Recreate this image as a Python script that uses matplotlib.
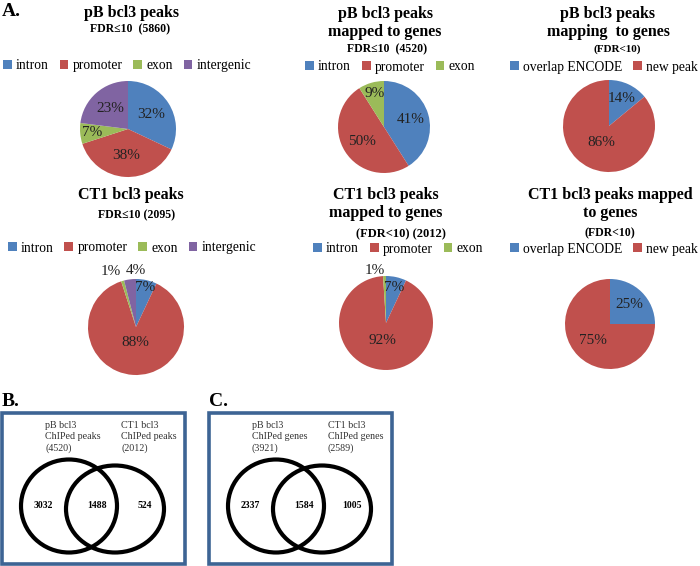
import numpy as np
import matplotlib
matplotlib.use("Agg")
import matplotlib.pyplot as plt
from matplotlib.patches import Ellipse, Rectangle

plt.rcParams['font.family'] = ['Liberation Serif', 'DejaVu Serif']

# ---- data ----
region_labels = ["intron", "promoter", "exon", "intergenic"]
gene_labels = ["intron", "promoter", "exon"]
encode_labels = ["overlap ENCODE", "new peak"]

pb_peaks = [32, 38, 7, 23]
pb_mapped = [41, 50, 9]
pb_encode = [14, 86]
ct1_peaks = [7, 88, 1, 4]
ct1_mapped = [7, 92, 1]
ct1_encode = [25, 75]

venn_b_counts = [3032, 1488, 524]
venn_b_sets = ["pB bcl3\nChIPed peaks\n(4520)", "CT1 bcl3\nChIPed peaks\n(2012)"]
venn_c_counts = [2337, 1584, 1005]
venn_c_sets = ["pB bcl3\nChIPed genes\n(3921)", "CT1 bcl3\nChIPed genes\n(2589)"]

colors = ["#4F81BD", "#C0504D", "#9BBB59", "#8064A2"]
W, H = 700, 566


def fy(y):
    return H - y


fig = plt.figure(figsize=(7.0, 5.66), dpi=100)
ax = fig.add_axes([0, 0, 1, 1])


def draw_pie(values, labels, cx, cy, r, lab_pos, title, sub, sub_size, leg_x, leg_y, title_y):
    # lab_pos: (radius fraction, angle shift in degrees) for each slice label
    wedges, _ = ax.pie(values, colors=colors[:len(values)], startangle=90, counterclock=False,
                       center=(cx, fy(cy)), radius=r, frame=True,
                       wedgeprops=dict(linewidth=0))
    for w, v, (f, sh) in zip(wedges, values, lab_pos):
        ang = np.deg2rad((w.theta1 + w.theta2) / 2 + sh)
        ax.text(cx + f * r * np.cos(ang), fy(cy) + f * r * np.sin(ang), "%d%%" % v,
                ha='center', va='center', fontsize=11, color='#222222')
    for i, line in enumerate(title):
        ax.text(line[1], fy(title_y + i * 18), line[0], ha='center', va='center',
                fontsize=11.5, fontweight='bold')
    ax.text(sub[1], fy(sub[2]), sub[0], ha='center', va='center', fontsize=sub_size,
            fontweight='bold')
    fig.legend(wedges, labels, loc='center', bbox_to_anchor=(leg_x / W, 1 - leg_y / H),
               ncol=len(labels), frameon=False, prop={'size': 9.8},
               handlelength=0.65, handleheight=0.65, handletextpad=0.3,
               columnspacing=0.8, borderpad=0)


draw_pie(pb_peaks, region_labels, 128, 129, 48, [(0.58, 0), (0.55, 0), (0.75, 0), (0.57, 0)],
         [("pB bcl3 peaks", 132)], ("FDR≤10  (5860)", 130, 29), 8.5, 127, 66, 13)
draw_pie(pb_mapped, gene_labels, 384, 127, 46, [(0.6, 0), (0.57, 0), (0.76, 0)],
         [("pB bcl3 peaks", 385), ("mapped to genes", 385)], ("FDR≤10  (4520)", 387, 49), 8.5,
         390, 67, 14)
draw_pie(pb_encode, encode_labels, 609, 126, 46, [(0.65, 0), (0.4, 0)],
         [("pB bcl3 peaks", 608), ("mapping  to genes", 608)], ("(FDR<10)", 617, 49), 8,
         604, 67, 14)
draw_pie(ct1_peaks, region_labels, 136, 327, 48, [(0.85, 0), (0.32, 0), (1.26, 8), (1.17, -7)],
         [("CT1 bcl3 peaks", 131)], ("FDR≤10 (2095)", 137, 215), 8.5, 132, 248, 195)
draw_pie(ct1_mapped, gene_labels, 386, 323, 47, [(0.78, 0), (0.38, 0), (1.15, 10)],
         [("CT1 bcl3 peaks", 386), ("mapped to genes", 386)], ("(FDR<10) (2012)", 401, 234), 9,
         398, 249, 195)
draw_pie(ct1_encode, encode_labels, 610, 324, 45, [(0.62, 0), (0.53, 0)],
         [("CT1 bcl3 peaks mapped", 610), ("to genes", 610)], ("(FDR<10)", 610, 233), 8.5,
         604, 249, 195)

ax.text(2, fy(12), "A.", fontsize=14, fontweight='bold', va='center', ha='left')


def draw_venn(x0, counts, sets, letter):
    ax.add_patch(Rectangle((x0 + 2, fy(564)), 183, 151, fill=False, edgecolor='#3D6494', lw=2.6))
    ax.text(x0 + 2, fy(402), letter, fontsize=14, fontweight='bold', va='center', ha='left')
    ax.add_patch(Ellipse((x0 + 69, fy(506)), 96, 93, fill=False, edgecolor='black', lw=3))
    ax.add_patch(Ellipse((x0 + 115, fy(509)), 98, 87, fill=False, edgecolor='black', lw=3))
    for xx, c in zip([x0 + 43, x0 + 97, x0 + 145], counts):
        ax.text(xx, fy(506), str(c), fontsize=7, fontweight='bold', ha='center', va='center')
    ax.text(x0 + 45, fy(437), sets[0], fontsize=7.2, ha='left', va='center', linespacing=1.35,
            color='#333333')
    ax.text(x0 + 121, fy(437), sets[1], fontsize=7.2, ha='left', va='center', linespacing=1.35,
            color='#333333')


draw_venn(0, venn_b_counts, venn_b_sets, "B.")
draw_venn(207, venn_c_counts, venn_c_sets, "C.")

ax.set_xlim(0, W)
ax.set_ylim(0, H)
ax.axis('off')

fig.savefig("out.png", dpi=100)
